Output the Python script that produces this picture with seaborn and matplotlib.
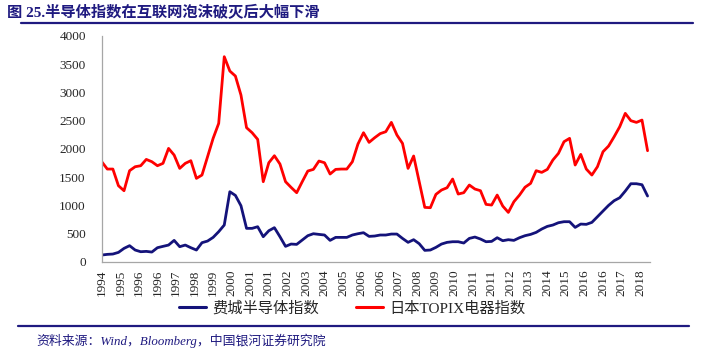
import pandas as pd
import seaborn as sns
import matplotlib.pyplot as plt
from matplotlib.lines import Line2D

# 数据（季度，从图上读取）
SOX = [118, 130, 136, 165, 236, 284, 207, 177, 183, 171,
       248, 272, 295, 378, 266, 295, 248, 207, 337, 366,
       431, 532, 650, 1240, 1175, 992, 591, 591, 620, 443,
       549, 603, 443, 272, 313, 307, 384, 461, 496, 484,
       473, 378, 431, 431, 431, 473, 496, 514, 449, 455,
       473, 473, 490, 490, 413, 343, 390, 319, 201, 207,
       254, 313, 343, 354, 354, 331, 413, 437, 402, 354,
       360, 425, 372, 390, 378, 425, 461, 484, 520, 579,
       626, 650, 691, 709, 709, 608, 667, 662, 697, 797,
       898, 998, 1081, 1134, 1252, 1382, 1382, 1364, 1164]
TOPIX = [1772, 1642, 1642, 1347, 1258, 1613, 1683, 1701, 1813, 1772,
         1701, 1743, 2008, 1890, 1654, 1743, 1790, 1477, 1536, 1860,
         2186, 2451, 3633, 3379, 3290, 2953, 2375, 2286, 2168, 1418,
         1754, 1878, 1731, 1418, 1317, 1223, 1418, 1607, 1636, 1784,
         1754, 1554, 1636, 1642, 1642, 1772, 2085, 2286, 2115, 2197,
         2270, 2304, 2469, 2245, 2097, 1654, 1873, 1418, 963, 957,
         1193, 1270, 1311, 1465, 1199, 1223, 1359, 1288, 1258, 1016,
         1004, 1181, 986, 874, 1063, 1180, 1320, 1388, 1613, 1583,
         1636, 1802, 1920, 2127, 2186, 1713, 1902, 1642, 1536, 1683,
         1949, 2050, 2215, 2392, 2629, 2499, 2469, 2510, 1967]
XTICK_LABELS = ['1994', '1995', '1996', '1996', '1997', '1998', '1999', '2000',
                '2001', '2001', '2002', '2003', '2004', '2005', '2006', '2006',
                '2007', '2008', '2009', '2010', '2011', '2011', '2012', '2013',
                '2014', '2015', '2016', '2016', '2017', '2018']
SERIES_NAMES = ['费城半导体指数', '日本TOPIX电器指数']
COLORS = ['#14137A', '#FF0000']

NAVY = '#1F1A80'
FONTS = ['Liberation Serif', 'Noto Sans CJK SC']

sns.set_style('white')
plt.rcParams['font.family'] = FONTS

df = pd.concat([
    pd.DataFrame({'idx': range(len(SOX)), 'value': SOX, 'series': SERIES_NAMES[0]}),
    pd.DataFrame({'idx': range(len(TOPIX)), 'value': TOPIX, 'series': SERIES_NAMES[1]}),
])

fig = plt.figure(figsize=(7.04, 3.55), dpi=100)
ax = fig.add_axes([0.1445, 0.2628, 0.7785, 0.6358])

sns.lineplot(data=df, x='idx', y='value', hue='series', palette=COLORS,
             linewidth=2.0, ax=ax, legend=False)

ax.set_xlim(0, 98.4)
ax.set_ylim(0, 4000)
ax.set_yticks(range(0, 4001, 500))
ax.set_xticks([k * 10 / 3 for k in range(len(XTICK_LABELS))])
ax.set_xticklabels(XTICK_LABELS, rotation=90)
ax.set_xlabel('')
ax.set_ylabel('')
for lab in ax.get_xticklabels() + ax.get_yticklabels():
    lab.set_fontfamily('Liberation Serif')
    lab.set_fontsize(9.5)
ax.tick_params(axis='both', direction='out', length=3.5, width=0.8,
               color='#A6A6A6', pad=2)
ax.tick_params(axis='y', pad=8)
sns.despine(ax=ax)
for s in ['left', 'bottom']:
    ax.spines[s].set_color('#A6A6A6')
    ax.spines[s].set_linewidth(0.9)

# 标题与分隔线
fig.text(0.010, 0.965, '图 25.半导体指数在互联网泡沫破灭后大幅下滑',
         fontsize=11, fontweight='bold', color=NAVY, va='center', ha='left')
fig.add_artist(Line2D([0.03, 0.985], [0.935, 0.935], color=NAVY, lw=1.6))
fig.add_artist(Line2D([0.025, 0.978], [0.081, 0.081], color=NAVY, lw=1.6))

handles = [Line2D([], [], color=c, lw=2.2) for c in COLORS]
fig.legend(handles, SERIES_NAMES, loc='center', bbox_to_anchor=(0.5, 0.132),
           ncol=2, frameon=False, fontsize=11, handlelength=1.8,
           handletextpad=0.4, columnspacing=2.4)

fig.text(0.052, 0.039, '资料来源：Wind，Bloomberg，中国银河证券研究院',
         fontsize=9.3, style='italic', color=NAVY, va='center', ha='left')

fig.savefig('out.png', dpi=100)
